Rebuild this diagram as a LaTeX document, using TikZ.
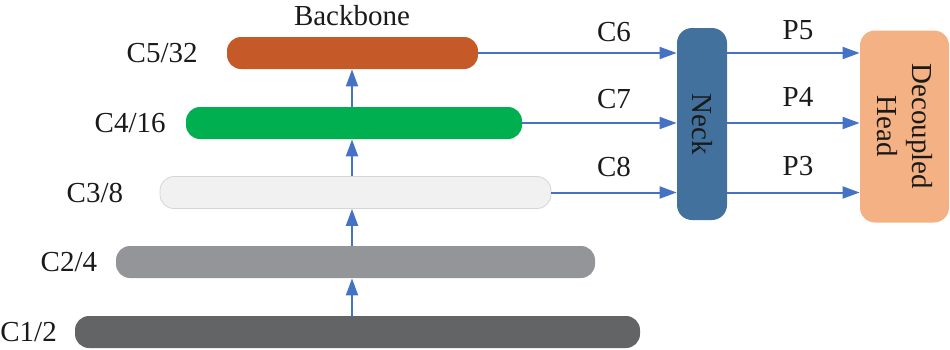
\documentclass[tikz,border=0pt]{standalone}
\usepackage{fontspec}
\setmainfont{Liberation Serif}
\usetikzlibrary{arrows.meta,positioning,calc}
\definecolor{rust}{HTML}{C55A28}
\definecolor{leaf}{HTML}{00B050}
\definecolor{mist}{HTML}{F0F1F0}
\definecolor{mistline}{HTML}{D4D6D4}
\definecolor{stone}{HTML}{939598}
\definecolor{slate}{HTML}{636466}
\definecolor{neckblue}{HTML}{41719C}
\definecolor{peach}{HTML}{F4B183}
\definecolor{wire}{HTML}{4472C4}
\definecolor{ink}{HTML}{1A1A1A}
\tikzset{
  bar/.style={rectangle, rounded corners=7pt, minimum height=16pt, inner sep=0pt, draw=none},
  blockbox/.style={rectangle, rounded corners=7.5pt, minimum width=25pt, minimum height=96pt, inner sep=0pt},
  txt/.style={font=\fontsize{14.5}{17.5}\selectfont, text=ink, inner sep=0pt},
  flow/.style={-{Triangle[length=8.5pt, width=6pt]}, line width=1pt, draw=wire},
}
\begin{document}
\begin{tikzpicture}[x=0.5pt, y=-0.5pt]
  \useasboundingbox (0,0) rectangle (950,349);
  % backbone stages
  \node[bar, fill=rust, minimum width=125.5pt] (b5) at (352.5,53) {};
  \node[bar, fill=leaf, minimum width=168pt] (b4) at (354,123) {};
  \node[bar, fill=mist, draw=mistline, line width=0.4pt, minimum width=195.5pt] (b3) at (355.5,192.5) {};
  \node[bar, fill=stone, minimum width=239.5pt] (b2) at (355.5,262) {};
  \node[bar, fill=slate, minimum width=282.5pt] (b1) at (357.5,332) {};
  \node[txt] (bbtitle) at (352,16) {Backbone};
  \node[txt, anchor=east] (l5) at (198,53) {C5/32};
  \node[txt, anchor=east] (l4) at (166,123) {C4/16};
  \node[txt, anchor=east] (l3) at (123.5,192.5) {C3/8};
  \node[txt, anchor=east] (l2) at (97.5,262) {C2/4};
  \node[txt, anchor=west] (l1) at (0,332) {C1/2};
  % neck and head
  \node[blockbox, fill=neckblue] (neck) at (702,124) {};
  \node[txt, rotate=-90] (necktxt) at (neck.center) {Neck};
  \node[blockbox, fill=peach, minimum width=44.5pt] (head) at (904.5,126.5) {};
  \node[txt, rotate=-90, align=center] (headtxt) at (head.center) {Decoupled\\Head};
  % upward flow
  \coordinate (ax) at (352,0);
  \draw[flow] (ax |- b1.north) -- (ax |- b2.south);
  \draw[flow] (ax |- b2.north) -- (ax |- b3.south);
  \draw[flow] (ax |- b3.north) -- (ax |- b4.south);
  \draw[flow] (ax |- b4.north) -- (ax |- b5.south);
  % into neck
  \draw[flow] (b5.east) -- (b5.east -| neck.west);
  \draw[flow] (b4.east) -- (b4.east -| neck.west);
  \draw[flow] (b3.east) -- (b3.east -| neck.west);
  \node[txt] (c6) at (614,32) {C6};
  \node[txt] (c7) at (614,99) {C7};
  \node[txt] (c8) at (614,167) {C8};
  % into head
  \draw[flow] (neck.east |- b5) -- (head.west |- b5);
  \draw[flow] (neck.east |- b4) -- (head.west |- b4);
  \draw[flow] (neck.east |- b3) -- (head.west |- b3);
  \node[txt] (p5) at (798,30) {P5};
  \node[txt] (p4) at (798,97) {P4};
  \node[txt] (p3) at (798,166) {P3};
\end{tikzpicture}
\end{document}
